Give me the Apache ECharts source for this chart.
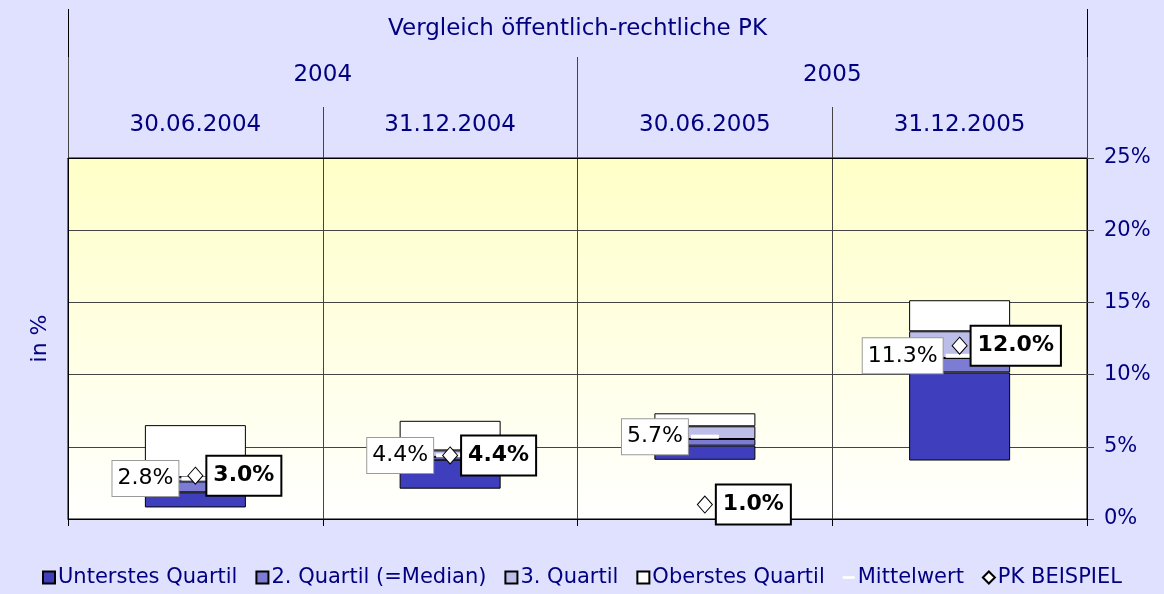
<!DOCTYPE html>
<html>
<head>
<meta charset="utf-8">
<script src="https://cdn.jsdelivr.net/npm/echarts@6/dist/echarts.min.js"></script>
<style>
  html, body { margin: 0; padding: 0; background: #e0e0ff; }
  #chart { width: 1164px; height: 594px; }
</style>
</head>
<body>
<div id="chart"></div>
<script>
// values in %
const titleRow = ['Vergleich öffentlich-rechtliche PK'];
const years = ['2004', '2005'];
const dates = ['30.06.2004', '31.12.2004', '30.06.2005', '31.12.2005'];
const minVals = [0.8, 2.1, 4.1, 4.05];
const q1Vals = [1.85, 4.1, 5.08, 10.15];
const medianVals = [2.6, 4.3, 5.54, 11.15];
const q3Vals = [2.9, 4.75, 6.42, 13.0];
const maxVals = [6.5, 6.8, 7.32, 15.15];
const meanVals = [2.8, 4.4, 5.7, 11.3];
const pkVals = [3.0, 4.4, 1.0, 12.0];
const yTicks = [0, 5, 10, 15, 20, 25];

const navy = '#000080';
const font = 'DejaVu Sans';

function diff(a, b) {
  return a.map((v, i) => +(v - b[i]).toFixed(3));
}

const pct = p => p.value.toFixed(1) + '%';

function quartileBar(name, data, color) {
  return {
    name: name, type: 'bar', stack: 'box', data: data,
    barWidth: 101,
    itemStyle: { color: color, borderColor: '#000', borderWidth: 1 }
  };
}

const chart = echarts.init(document.getElementById('chart'));

chart.setOption({
  backgroundColor: '#e0e0ff',
  animation: false,
  textStyle: { fontFamily: font },
  grid: {
    left: 68, right: 77, top: 158, bottom: 75,
    show: true,
    borderColor: '#000', borderWidth: 1,
    backgroundColor: new echarts.graphic.LinearGradient(0, 0, 0, 1, [
      { offset: 0, color: '#ffffc8' },
      { offset: 1, color: '#ffffff' }
    ])
  },
  legend: {
    bottom: 1, left: 'center',
    itemWidth: 12, itemHeight: 12, itemGap: 18,
    selectedMode: false,
    textStyle: { color: navy, fontSize: 21, padding: [0, 0, 0, -2] },
    data: [
      { name: 'Unterstes Quartil', icon: 'rect' },
      { name: '2. Quartil (=Median)', icon: 'rect' },
      { name: '3. Quartil', icon: 'rect' },
      { name: 'Oberstes Quartil', icon: 'rect' },
      { name: 'Mittelwert', icon: 'path://M0,0M18,18M0,7h18v4h-18z' },
      { name: 'PK BEISPIEL', icon: 'diamond' }
    ]
  },
  xAxis: [
    {
      type: 'category', data: dates, position: 'bottom',
      axisLine: { onZero: false, lineStyle: { color: '#000' } },
      axisTick: { show: true, length: 7, lineStyle: { color: '#000' } },
      axisLabel: { show: false },
      splitLine: { show: true, lineStyle: { color: '#444' } }
    },
    {
      type: 'category', data: dates, position: 'top',
      axisLine: { onZero: false, lineStyle: { color: '#000' } },
      axisTick: { show: true, length: 51, lineStyle: { color: '#444' } },
      axisLabel: { color: navy, fontSize: 23, margin: 21 }
    },
    {
      type: 'category', data: years, position: 'top', offset: 51,
      axisLine: { show: false, onZero: false },
      axisTick: { show: true, length: 50, lineStyle: { color: '#444' } },
      axisLabel: { color: navy, fontSize: 23, margin: 20 }
    },
    {
      type: 'category', data: titleRow, position: 'top', offset: 101,
      axisLine: { show: false, onZero: false },
      axisTick: { show: true, length: 48, lineStyle: { color: '#000' } },
      axisLabel: { color: navy, fontSize: 23, margin: 16 }
    }
  ],
  yAxis: [
    {
      type: 'value', position: 'right',
      min: yTicks[0], max: yTicks[yTicks.length - 1], interval: 5,
      axisLine: { show: true, onZero: false, lineStyle: { color: '#000' } },
      axisTick: { show: true, length: 7, lineStyle: { color: '#444' } },
      axisLabel: { color: navy, fontSize: 21, margin: 17, formatter: '{value}%' },
      splitLine: { show: true, lineStyle: { color: '#444' } }
    },
    {
      type: 'value', position: 'left',
      min: yTicks[0], max: yTicks[yTicks.length - 1],
      axisLine: { show: true, onZero: false, lineStyle: { color: '#000' } },
      axisTick: { show: false },
      axisLabel: { show: false },
      splitLine: { show: false },
      name: 'in %', nameLocation: 'middle', nameGap: 17,
      nameTextStyle: { color: navy, fontSize: 22 }
    }
  ],
  series: [
    {
      name: 'base', type: 'bar', stack: 'box', data: minVals,
      barWidth: 101, silent: true,
      itemStyle: { color: 'transparent' }
    },
    quartileBar('Unterstes Quartil', diff(q1Vals, minVals), '#3f3fbd'),
    quartileBar('2. Quartil (=Median)', diff(medianVals, q1Vals), '#7c7cd4'),
    quartileBar('3. Quartil', diff(q3Vals, medianVals), '#bdbde9'),
    quartileBar('Oberstes Quartil', diff(maxVals, q3Vals), '#ffffff'),
    {
      name: 'Mittelwert', type: 'scatter', data: meanVals, z: 5,
      symbol: 'rect', symbolSize: [28, 4],
      itemStyle: { color: '#ffffff', opacity: 1 },
      label: {
        show: true, position: 'left', distance: 3, formatter: pct,
        color: '#000', fontSize: 22, lineHeight: 24,
        textBorderWidth: 0, textShadowBlur: 0,
        backgroundColor: '#fff', borderColor: '#9a9a9a', borderWidth: 1,
        padding: [6, 5, 5, 5]
      }
    },
    {
      name: 'PK BEISPIEL', type: 'scatter', data: pkVals, z: 6,
      symbol: 'diamond', symbolSize: [15, 17],
      itemStyle: { color: '#ffffff', borderColor: '#000', borderWidth: 1, opacity: 1 },
      label: {
        show: true, position: 'right', distance: 4, formatter: pct,
        color: '#000', fontSize: 22, fontWeight: 'bold', lineHeight: 24,
        textBorderWidth: 0, textShadowBlur: 0,
        backgroundColor: '#fff', borderColor: '#000', borderWidth: 2,
        padding: [7, 6, 7, 6]
      }
    }
  ]
});
</script>
</body>
</html>
